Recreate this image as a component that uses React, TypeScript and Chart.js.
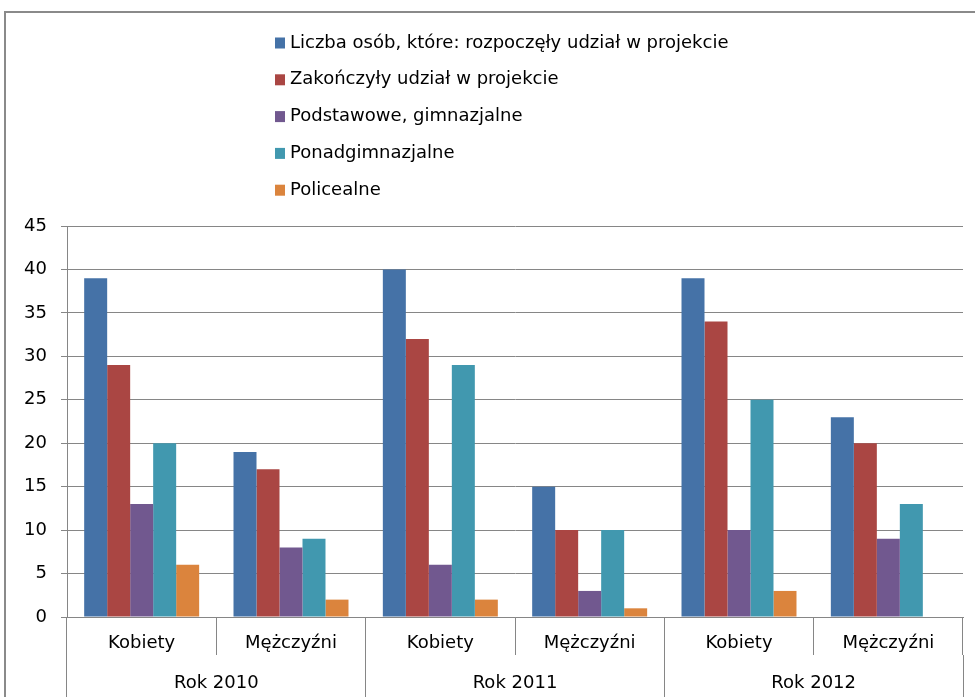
import React, { useEffect, useRef } from "react";
import { Chart, registerables } from "chart.js";

Chart.register(...registerables);

// ---- data ----
const groupLabels = ["Kobiety", "Mężczyźni", "Kobiety", "Mężczyźni", "Kobiety", "Mężczyźni"];
const yearLabels = ["Rok 2010", "Rok 2011", "Rok 2012"];
const seriesNames = [
  "Liczba osób, które: rozpoczęły udział w projekcie",
  "Zakończyły udział w projekcie",
  "Podstawowe, gimnazjalne",
  "Ponadgimnazjalne",
  "Policealne",
];
const startedValues = [39, 19, 40, 15, 39, 23];
const finishedValues = [29, 17, 32, 10, 34, 20];
const primaryValues = [13, 8, 6, 3, 10, 9];
const secondaryValues = [20, 9, 29, 10, 25, 13];
const postSecondaryValues = [6, 2, 2, 1, 3, 0];
const seriesColors = ["#4572A7", "#AA4643", "#71588F", "#4198AF", "#DB843D"];
const yMin = 0;
const yMax = 45;
const yStep = 5;

const FONT = "DejaVu Sans";
const GRID = "#868686";

const legendPlugin = {
  id: "verticalLegend",
  afterDraw(chart: any) {
    const ctx = chart.ctx;
    ctx.save();
    ctx.font = `18px "${FONT}"`;
    ctx.textBaseline = "middle";
    ctx.textAlign = "left";
    chart.data.datasets.forEach((ds: any, i: number) => {
      const y = 43 + i * 36.8;
      ctx.fillStyle = ds.backgroundColor;
      ctx.fillRect(275, y - 5.5, 10, 11);
      ctx.fillStyle = "#000";
      ctx.fillText(ds.label, 290, y);
    });
    ctx.restore();
  },
};

export default function App() {
  const ref = useRef<HTMLCanvasElement | null>(null);

  useEffect(() => {
    if (!ref.current) return;
    const valueSets = [startedValues, finishedValues, primaryValues, secondaryValues, postSecondaryValues];
    const chart = new Chart(ref.current, {
      type: "bar",
      data: {
        labels: groupLabels,
        datasets: valueSets.map((vals, i) => ({
          label: seriesNames[i],
          data: vals,
          backgroundColor: seriesColors[i],
          borderWidth: 0,
          categoryPercentage: 0.77,
          barPercentage: 1,
          xAxisID: "x",
          yAxisID: "y",
        })),
      },
      options: {
        responsive: false,
        animation: false,
        layout: { padding: { left: 0, right: 12, top: 226, bottom: 0 } },
        plugins: {
          legend: { display: false },
          tooltip: { enabled: false },
        },
        scales: {
          x: {
            type: "category",
            position: "bottom",
            offset: true,
            grid: {
              offset: true,
              drawOnChartArea: false,
              drawTicks: true,
              tickLength: 38,
              color: GRID,
              lineWidth: 1,
            },
            border: { display: true, color: GRID, width: 1 },
            ticks: {
              padding: -22,
              font: { family: FONT, size: 18 },
              color: "#000",
              maxRotation: 0,
              autoSkip: false,
            },
            afterFit: (s: any) => {
              s.height = 38;
            },
          },
          x2: {
            type: "category",
            labels: yearLabels,
            position: "bottom",
            offset: true,
            grid: {
              offset: true,
              drawOnChartArea: false,
              drawTicks: true,
              tickLength: 60,
              color: GRID,
              lineWidth: 1,
            },
            border: { display: false },
            ticks: {
              padding: -42,
              font: { family: FONT, size: 18 },
              color: "#000",
              maxRotation: 0,
              autoSkip: false,
            },
            afterFit: (s: any) => {
              s.height = 42;
            },
          },
          y: {
            min: yMin,
            max: yMax,
            ticks: {
              stepSize: yStep,
              padding: 14,
              font: { family: FONT, size: 18 },
              color: "#000",
            },
            grid: { color: GRID, tickLength: 6, lineWidth: 1 },
            border: { display: true, color: GRID, width: 1 },
            afterFit: (s: any) => {
              s.width = 67;
            },
          },
        },
      },
      plugins: [legendPlugin],
    });
    return () => chart.destroy();
  }, []);

  return (
    <div style={{ position: "fixed", left: 0, top: 0, width: 975, height: 697, background: "#fff", overflow: "hidden" }}>
      <div
        style={{
          position: "absolute",
          left: 4,
          top: 11,
          width: 1000,
          height: 720,
          borderLeft: "2px solid #8a8a8a",
          borderTop: "2px solid #8a8a8a",
        }}
      />
      <canvas ref={ref} width={975} height={697} style={{ position: "absolute", left: 0, top: 0 }} />
    </div>
  );
}
